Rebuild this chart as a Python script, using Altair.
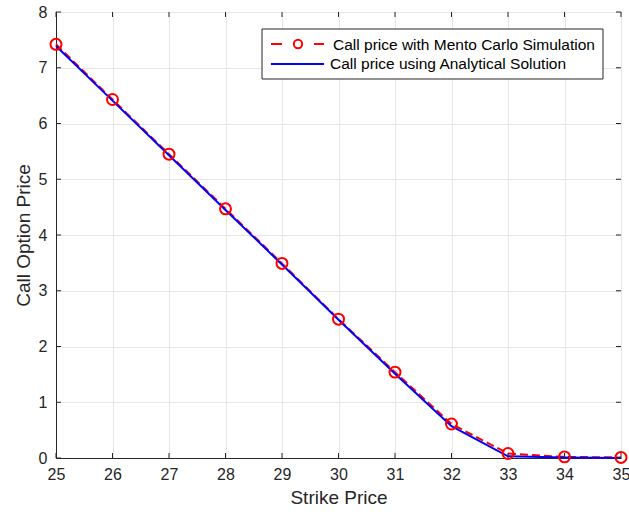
import altair as alt
import pandas as pd

strike = [25, 26, 27, 28, 29, 30, 31, 32, 33, 34, 35]
mc_price = [7.42, 6.43, 5.45, 4.47, 3.49, 2.49, 1.54, 0.61, 0.08, 0.02, 0.01]
an_price = [7.39, 6.41, 5.43, 4.45, 3.47, 2.48, 1.51, 0.57, 0.03, 0.01, 0.00]
y_ticks = [0, 1, 2, 3, 4, 5, 6, 7, 8]
legend_labels = ["Call price with Mento Carlo Simulation", "Call price using Analytical Solution"]

FONT = "Liberation Sans"
AX = "#262626"
W, H = 565, 446

df = pd.DataFrame({"strike": strike, "mc": mc_price, "an": an_price})
dfx = pd.DataFrame({"v": strike})
dfy = pd.DataFrame({"v": y_ticks})

xs = alt.Scale(domain=[25, 35], nice=False)
ys = alt.Scale(domain=[0, 8], nice=False)

x_enc = alt.X("strike:Q", scale=xs,
              axis=alt.Axis(title="Strike Price", values=strike, format="d",
                            labelFontSize=16, titleFontSize=19, labelPadding=8,
                            titlePadding=6, grid=True, labelFlush=False,
                            labelOverlap=False, tickSize=0))
base = alt.Chart(df)

mc_line = base.mark_line(color="#FF0000", strokeWidth=2, strokeDash=[8, 4]).encode(
    x=x_enc,
    y=alt.Y("mc:Q", scale=ys,
            axis=alt.Axis(title="Call Option Price", values=y_ticks, format="d",
                          labelFontSize=16, titleFontSize=19, labelPadding=9,
                          titlePadding=5, grid=True, labelFlush=False, tickSize=0)),
)
mc_pts = base.mark_point(shape="circle", color="#FF0000", size=120, strokeWidth=2,
                         filled=False, opacity=1).encode(
    x=alt.X("strike:Q", scale=xs), y=alt.Y("mc:Q", scale=ys))
an_line = base.mark_line(color="#0000FF", strokeWidth=2).encode(
    x=alt.X("strike:Q", scale=xs), y=alt.Y("an:Q", scale=ys))

# inward ticks (MATLAB box style)
tick_b = alt.Chart(dfx).mark_rule(color=AX, strokeWidth=1).encode(
    x=alt.X("v:Q", scale=xs), y=alt.value(H), y2=alt.value(H - 5))
tick_t = alt.Chart(dfx).mark_rule(color=AX, strokeWidth=1).encode(
    x=alt.X("v:Q", scale=xs), y=alt.value(0), y2=alt.value(5))
tick_l = alt.Chart(dfy).mark_rule(color=AX, strokeWidth=1).encode(
    y=alt.Y("v:Q", scale=ys), x=alt.value(0), x2=alt.value(5))
tick_r = alt.Chart(dfy).mark_rule(color=AX, strokeWidth=1).encode(
    y=alt.Y("v:Q", scale=ys), x=alt.value(W), x2=alt.value(W - 5))

# legend (drawn like MATLAB's legend box)
one = pd.DataFrame({"a": [0]})
leg_box = alt.Chart(one).mark_rect(
    fill="white", stroke=AX, strokeWidth=1).encode(
    x=alt.value(206), x2=alt.value(547), y=alt.value(17), y2=alt.value(67))
leg_d1 = alt.Chart(one).mark_rule(color="#FF0000", strokeWidth=2).encode(
    x=alt.value(215), x2=alt.value(226), y=alt.value(32))
leg_d2 = alt.Chart(one).mark_rule(color="#FF0000", strokeWidth=2).encode(
    x=alt.value(258), x2=alt.value(268), y=alt.value(32))
leg_c = alt.Chart(one).mark_point(
    shape="circle", color="#FF0000", size=70, strokeWidth=2, opacity=1).encode(
    x=alt.value(242), y=alt.value(32))
leg_b = alt.Chart(one).mark_rule(color="#0000FF", strokeWidth=2).encode(
    x=alt.value(215), x2=alt.value(268), y=alt.value(52))
leg_t1 = alt.Chart(pd.DataFrame({"t": [legend_labels[0]]})).mark_text(
    align="left", baseline="middle", font=FONT, fontSize=15.5, color="black").encode(
    x=alt.value(277), y=alt.value(33), text="t:N")
leg_t2 = alt.Chart(pd.DataFrame({"t": [legend_labels[1]]})).mark_text(
    align="left", baseline="middle", font=FONT, fontSize=15.5, color="black").encode(
    x=alt.value(274), y=alt.value(52), text="t:N")

chart = alt.layer(mc_line, an_line, mc_pts, tick_b, tick_t, tick_l, tick_r,
                  leg_box, leg_d1, leg_d2, leg_c, leg_b, leg_t1, leg_t2).properties(
    width=W, height=H,
    padding={"left": 56, "top": 12, "right": 8, "bottom": 59},
    autosize=alt.AutoSizeParams(type="none"),
    background="white",
).configure_view(stroke=AX, strokeWidth=1).configure_axis(
    domainColor=AX, tickColor=AX, labelColor=AX, titleColor=AX,
    gridColor="#e6e6e6", labelFont=FONT, titleFont=FONT, titleFontWeight="normal",
    domainWidth=1,
)

chart.save("out.html", embed_options={"renderer": "svg", "actions": False})
